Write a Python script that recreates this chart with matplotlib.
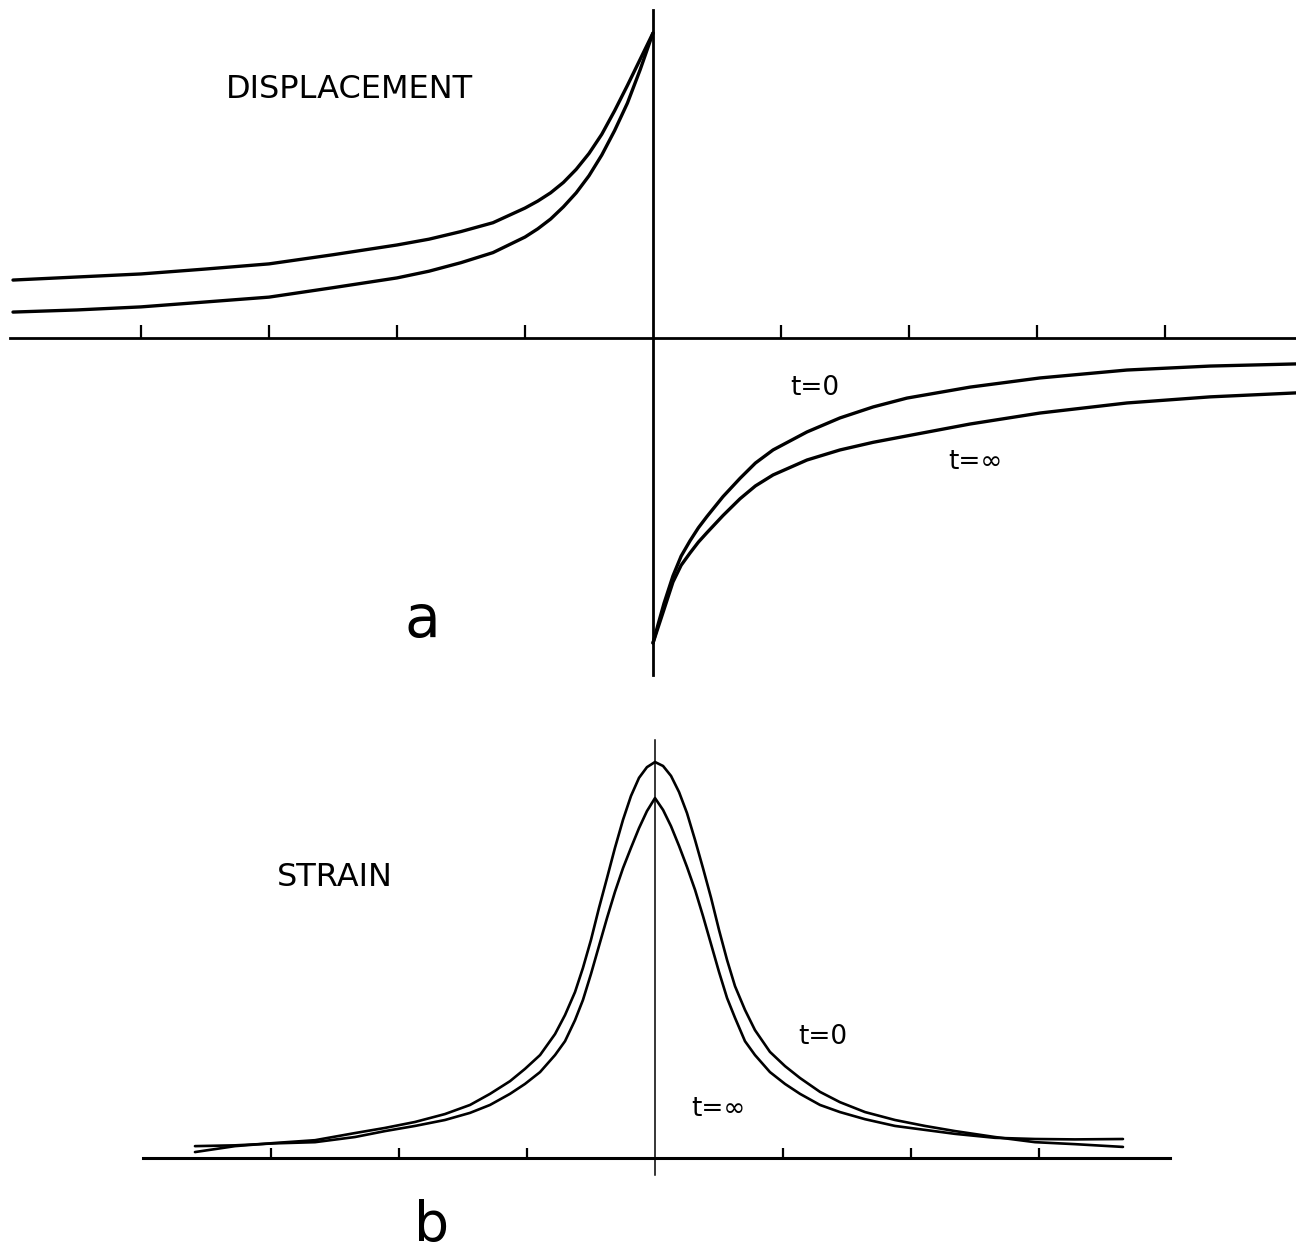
import matplotlib
matplotlib.use("Agg")
import matplotlib.pyplot as plt

# ---------------- data ----------------
# Panel a: displacement; x in tick units, y normalised so the peak = 1
disp_left_x = [-5.0, -4.5, -4.0, -3.5, -3.0, -2.5, -2.0, -1.75, -1.5, -1.25,
               -1.0, -0.9, -0.8, -0.7, -0.6, -0.5, -0.4, -0.3, -0.2, -0.1, 0.0]
disp_t0_left_y = [0.085, 0.092, 0.102, 0.118, 0.134, 0.165, 0.197, 0.219, 0.247, 0.280,
                  0.331, 0.358, 0.390, 0.430, 0.476, 0.532, 0.600, 0.680, 0.770, 0.880, 1.0]
disp_tinf_left_y = [0.190, 0.200, 0.210, 0.226, 0.243, 0.273, 0.305, 0.324, 0.349, 0.378,
                    0.426, 0.449, 0.476, 0.510, 0.553, 0.605, 0.668, 0.745, 0.828, 0.914, 1.0]
disp_right_x = [0.0, 0.039, 0.086, 0.156, 0.22, 0.289, 0.355, 0.422, 0.547, 0.68,
                0.8, 0.938, 1.203, 1.461, 1.72, 1.984, 2.477, 3.023, 3.703, 4.352, 5.023]
disp_t0_right_y = [-1.0, -0.94, -0.87, -0.78, -0.715, -0.665, -0.622, -0.585, -0.52, -0.46,
                   -0.41, -0.367, -0.308, -0.262, -0.226, -0.197, -0.161, -0.131, -0.105, -0.092, -0.085]
disp_tinf_right_y = [-1.0, -0.95, -0.89, -0.80, -0.745, -0.705, -0.669, -0.638, -0.582, -0.527,
                     -0.485, -0.449, -0.400, -0.367, -0.342, -0.321, -0.282, -0.246, -0.213, -0.193, -0.180]
disp_ticks = [-4, -3, -2, -1, 1, 2, 3, 4]

# Panel b: strain; x in tick units, y normalised so the t=0 peak = 1
strain_x = [-3.594, -3.281, -2.969, -2.656, -2.344, -2.109, -1.875, -1.641, -1.445, -1.289,
            -1.133, -1.016, -0.898, -0.781, -0.703, -0.625, -0.563, -0.500, -0.438, -0.375,
            -0.313, -0.250, -0.188, -0.125, -0.063, 0.0, 0.063, 0.125, 0.188, 0.250,
            0.313, 0.375, 0.438, 0.500, 0.563, 0.625, 0.703, 0.781, 0.898, 1.016,
            1.133, 1.289, 1.445, 1.641, 1.875, 2.109, 2.344, 2.656, 2.969, 3.281, 3.656]
strain_t0_y = [0.015, 0.030, 0.038, 0.045, 0.063, 0.076, 0.091, 0.111, 0.134, 0.162,
               0.194, 0.225, 0.260, 0.313, 0.361, 0.419, 0.480, 0.551, 0.631, 0.707,
               0.783, 0.854, 0.914, 0.960, 0.987, 1.000, 0.990, 0.965, 0.924, 0.871,
               0.803, 0.732, 0.657, 0.576, 0.500, 0.434, 0.374, 0.323, 0.268, 0.232,
               0.202, 0.167, 0.141, 0.116, 0.096, 0.081, 0.068, 0.053, 0.040, 0.035, 0.028]
strain_tinf_y = [0.030, 0.032, 0.037, 0.040, 0.053, 0.068, 0.081, 0.096, 0.114, 0.134,
                 0.162, 0.187, 0.217, 0.260, 0.295, 0.348, 0.399, 0.465, 0.535, 0.606,
                 0.672, 0.732, 0.783, 0.833, 0.876, 0.909, 0.879, 0.838, 0.788, 0.735,
                 0.677, 0.611, 0.540, 0.470, 0.404, 0.354, 0.295, 0.260, 0.217, 0.187,
                 0.162, 0.134, 0.116, 0.098, 0.081, 0.071, 0.061, 0.051, 0.048, 0.047, 0.048]
strain_ticks = [-3, -2, -1, 1, 2, 3]

# ---------------- figure ----------------
W, H = 1296, 1255
fig = plt.figure(figsize=(W / 100, H / 100), dpi=100)
fig.patch.set_facecolor("white")


def px_rect(x0, y0, x1, y1):
    return [x0 / W, 1 - y1 / H, (x1 - x0) / W, (y1 - y0) / H]


def style_axes(ax, ticks, tick_len, lw_h, lw_v):
    for s in ("top", "right"):
        ax.spines[s].set_visible(False)
    ax.spines["left"].set_position(("data", 0))
    ax.spines["bottom"].set_position(("data", 0))
    ax.spines["bottom"].set_linewidth(lw_h)
    ax.spines["left"].set_linewidth(lw_v)
    ax.set_xticks(ticks)
    ax.set_xticklabels([])
    ax.set_yticks([])
    ax.tick_params(axis="x", direction="in", length=tick_len, width=1.6, color="black")
    ax.patch.set_alpha(0)


# Panel a
ax1 = fig.add_axes(px_rect(10, 10, 1296, 675))
ax1.set_xlim(-5.0234, 5.0234)
ax1.set_ylim(-1.1049, 1.0754)
style_axes(ax1, disp_ticks, 9.5, 2.0, 2.0)
lw = 2.4
kw = dict(color="black", lw=lw, solid_capstyle="round", solid_joinstyle="round")
ax1.plot(disp_left_x, disp_t0_left_y, **kw)
ax1.plot(disp_left_x, disp_tinf_left_y, **kw)
ax1.plot(disp_right_x, disp_t0_right_y, **kw)
ax1.plot(disp_right_x, disp_tinf_right_y, **kw)

# Panel b
ax2 = fig.add_axes(px_rect(143, 740, 1170, 1175))
ax2.set_xlim(-4.0, 4.0234)
ax2.set_ylim(-0.0429, 1.0556)
style_axes(ax2, strain_ticks, 7.5, 2.2, 1.1)
kw2 = dict(color="black", lw=1.9, solid_capstyle="round", solid_joinstyle="round")
ax2.plot(strain_x, strain_t0_y, **kw2)
ax2.plot(strain_x, strain_tinf_y, **kw2)

# ---------------- text ----------------
def ftext(px, py, s, size, va="center"):
    fig.text(px / W, 1 - py / H, s, fontsize=size, ha="center", va=va,
             family="DejaVu Sans", color="black")


ftext(349, 90, "DISPLACEMENT", 23)
ftext(335, 878, "STRAIN", 23)
ftext(815, 388, "t=0", 19)
ftext(975, 462, "t=∞", 19)
ftext(823, 1037, "t=0", 19)
ftext(718, 1109, "t=∞", 19)
ftext(422, 621, "a", 42)
ftext(432, 1253, "b", 40, va="bottom")

fig.savefig("out.png", dpi=100, facecolor="white")
